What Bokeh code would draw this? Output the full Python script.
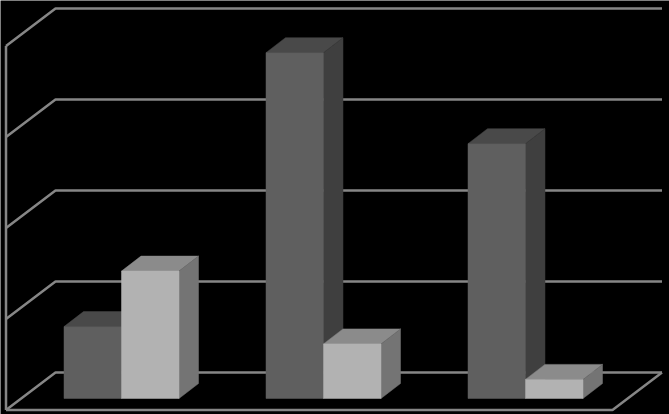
from bokeh.plotting import figure
from bokeh.embed import file_html
from bokeh.resources import INLINE

categories = ["A", "B", "C"]
series_dark = [0.79, 3.80, 2.80]
series_light = [1.40, 0.60, 0.21]
ticks = [0, 1, 2, 3, 4]

W, H = 669, 414
UX, UY = 202.0, 91.0      # pixels per category, per value unit
X0, Y0 = 121.0, 398.0     # pixel of category 0 centre, of value 0
BW = 57.5 / UX
DX, DY = 19.5 / UX, 15.0 / UY

x0 = -X0 / UX
x1 = (W - X0) / UX
y_top = Y0 / UY
y_bot = (Y0 - H) / UY

p = figure(width=W, height=H, x_range=(x0, x1), y_range=(y_bot, y_top),
           output_backend="svg", toolbar_location=None, min_border=0,
           background_fill_color="black", border_fill_color="black",
           outline_line_color=None)
p.axis.visible = False
p.grid.visible = False

GRID = "#868686"
xl_f = (5.5 - X0) / UX
xl_b = (55 - X0) / UX
xr_f = (612 - X0) / UX
xr_b = (661.5 - X0) / UX
v_b = (Y0 - 372) / UY
v_f = (Y0 - 409.5) / UY

for t in ticks:
    p.line([xl_f, xl_b, xr_b], [t + v_f, t + v_b, t + v_b], line_color=GRID, line_width=2.5)
p.line([xl_f, xl_f], [ticks[0] + v_f, ticks[-1] + v_f], line_color=GRID, line_width=2.5)
p.line([xl_f, xr_f, xr_b], [v_f, v_f, v_b], line_color=GRID, line_width=2.5)


def bar(xa, xb, v, front, top, side):
    p.patch([xa, xa + DX, xb + DX, xb], [v, v + DY, v + DY, v], fill_color=top, line_color=top, line_width=0.5)
    p.patch([xb, xb + DX, xb + DX, xb], [0, DY, v + DY, v], fill_color=side, line_color=side, line_width=0.5)
    p.quad(left=[xa], right=[xb], bottom=[0], top=[v], fill_color=front, line_color=front, line_width=0.5)


for i in range(len(categories)):
    bar(i - BW, i, series_dark[i], "#5f5f5f", "#494949", "#3f3f3f")
    bar(i, i + BW, series_light[i], "#b2b2b2", "#8b8b8b", "#747474")

open("out.html", "w").write(file_html(p, INLINE))
